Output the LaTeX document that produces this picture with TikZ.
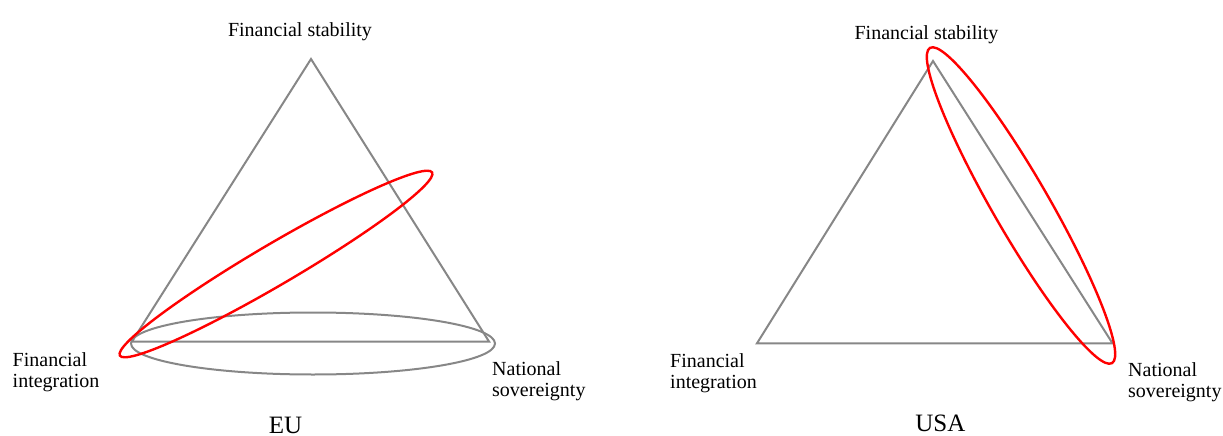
\documentclass[tikz,border=0pt]{standalone}
\usepackage{fontspec}
\setmainfont{Liberation Serif}
\begin{document}
\begin{tikzpicture}[x=1pt,y=-1pt,
  tri/.style={draw=black!47, line width=2pt, line join=miter},
  grayring/.style={draw=black!47, line width=2pt},
  redring/.style={draw=red, line width=2.4pt},
  lbl/.style={inner sep=0pt, font=\fontsize{20}{21}\selectfont, align=left},
  title/.style={inner sep=0pt, font=\fontsize{25}{26}\selectfont}]
\useasboundingbox (0,0) rectangle (1223,436);
% EU
\coordinate (euS) at (311,59);
\coordinate (euI) at (132,341.5);
\coordinate (euN) at (489,341.5);
\coordinate (euG) at (313,343.5);
\coordinate (euR) at (276,264);
\draw[tri] (euS) -- (euI) -- (euN) -- cycle;
\draw[grayring] (euG) ellipse [x radius=182pt, y radius=31pt];
\draw[redring, rotate around={30.4:(euR)}] (euR) ellipse [x radius=181pt, y radius=20.5pt];
\node[lbl, anchor=base] (euSl) at (300,37) {Financial stability};
\node[lbl, anchor=base west] (euIl) at (12.5,387.5) {Financial\\integration};
\node[lbl, anchor=base west] (euNl) at (492,396) {National\\sovereignty};
\node[title, anchor=base] (eu) at (285.5,433) {EU};
% USA
\coordinate (usS) at (933,61);
\coordinate (usI) at (757,343.3);
\coordinate (usN) at (1112.5,343.3);
\coordinate (usR) at (1021,205.5);
\draw[tri] (usS) -- (usI) -- (usN) -- cycle;
\draw[redring, rotate around={-60:(usR)}] (usR) ellipse [x radius=182pt, y radius=28pt];
\node[lbl, anchor=base] (usSl) at (926.5,40) {Financial stability};
\node[lbl, anchor=base west] (usIl) at (670,388.5) {Financial\\integration};
\node[lbl, anchor=base west] (usNl) at (1128,397) {National\\sovereignty};
\node[title, anchor=base] (usa) at (940.3,431.5) {USA};
\end{tikzpicture}
\end{document}
